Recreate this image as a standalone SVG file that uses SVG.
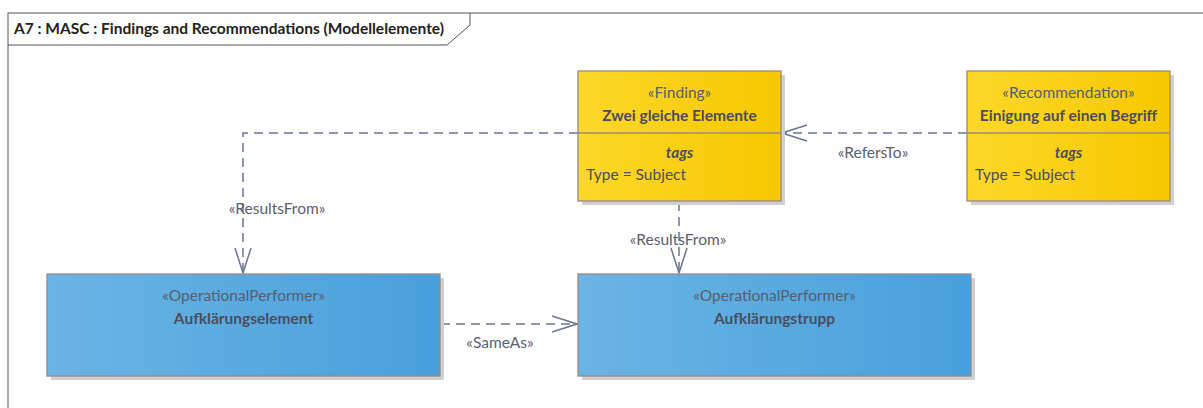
<svg xmlns="http://www.w3.org/2000/svg" width="1203" height="408" viewBox="0 0 1203 408">
<style>
text{font-family:Lato,"Open Sans","Liberation Sans",sans-serif;fill:#4a4e5a;font-size:15.5px}
.c{text-anchor:middle}
.b{font-weight:bold}
.bi{font-weight:bold;font-style:italic}
.st{fill:#575e6e}
.box{stroke:#9a8888;stroke-width:1.3}
.sh{fill:#d0d0d0}
.conn{fill:none;stroke:#6a7590;stroke-width:1.5;stroke-dasharray:9,6}
.lbl{fill:#5a6070;text-anchor:middle}
</style>
<defs>
<linearGradient id="gy" x1="0" y1="0" x2="1" y2="0"><stop offset="0" stop-color="#fdd829"/><stop offset="1" stop-color="#f6c800"/></linearGradient>
<linearGradient id="gb" x1="0" y1="0" x2="1" y2="0"><stop offset="0" stop-color="#6bb4e4"/><stop offset="1" stop-color="#48a0dc"/></linearGradient>
<marker id="arr" markerWidth="28" markerHeight="20" refX="26" refY="9" orient="auto" markerUnits="userSpaceOnUse"><path d="M1,1 L26,9 L1,17" fill="none" stroke="#6a7590" stroke-width="1.5"/></marker>
</defs>
<rect width="1203" height="408" fill="#fff"/>
<g id="frame">
<rect x="8" y="13" width="1300" height="500" fill="none" stroke="#555" stroke-width="1"/>
<path d="M8,45 H447 L470,25 V13" fill="none" stroke="#555" stroke-width="1"/>
<text x="14" y="34" class="b" style="font-size:15.5px;fill:#222">A7 : MASC : Findings and Recommendations (Modellelemente)</text>
</g>
<g id="connectors">
<path class="conn" d="M578,133 H243 V273" marker-end="url(#arr)"/>
<text class="lbl" x="277" y="214">«ResultsFrom»</text>
<path class="conn" d="M967,133 H782" marker-end="url(#arr)"/>
<text class="lbl" x="873" y="158">«RefersTo»</text>
<path class="conn" d="M679,202 V273" marker-end="url(#arr)"/>
<text class="lbl" x="678" y="245">«ResultsFrom»</text>
<path class="conn" d="M441,324 H577" marker-end="url(#arr)"/>
<text class="lbl" x="500" y="348">«SameAs»</text>
</g>
<g id="finding">
<rect class="sh" x="582" y="75" width="203" height="130"/>
<rect class="box" x="578" y="71" width="203" height="130" fill="url(#gy)"/>
<line class="box" x1="578" y1="133" x2="781" y2="133"/>
<text class="c st" x="679.5" y="98">«Finding»</text>
<text class="c b" x="679.5" y="121">Zwei gleiche Elemente</text>
<text class="c bi" x="679.5" y="158">tags</text>
<text x="586" y="180">Type = Subject</text>
</g>
<g id="recommendation">
<rect class="sh" x="971" y="75" width="203" height="130"/>
<rect class="box" x="967" y="71" width="203" height="130" fill="url(#gy)"/>
<line class="box" x1="967" y1="133" x2="1170" y2="133"/>
<text class="c st" x="1068.5" y="98">«Recommendation»</text>
<text class="c b" x="1068.5" y="121">Einigung auf einen Begriff</text>
<text class="c bi" x="1068.5" y="158">tags</text>
<text x="975" y="180">Type = Subject</text>
</g>
<g id="aufklaerungselement">
<rect class="sh" x="51" y="278" width="393" height="102"/>
<rect class="box" x="47" y="274" width="393" height="102" fill="url(#gb)"/>
<text class="c st" x="243.5" y="301">«OperationalPerformer»</text>
<text class="c b" x="243.5" y="324">Aufklärungselement</text>
</g>
<g id="aufklaerungstrupp">
<rect class="sh" x="582" y="278" width="393" height="102"/>
<rect class="box" x="578" y="274" width="393" height="102" fill="url(#gb)"/>
<text class="c st" x="774.5" y="301">«OperationalPerformer»</text>
<text class="c b" x="774.5" y="324">Aufklärungstrupp</text>
</g>
</svg>
